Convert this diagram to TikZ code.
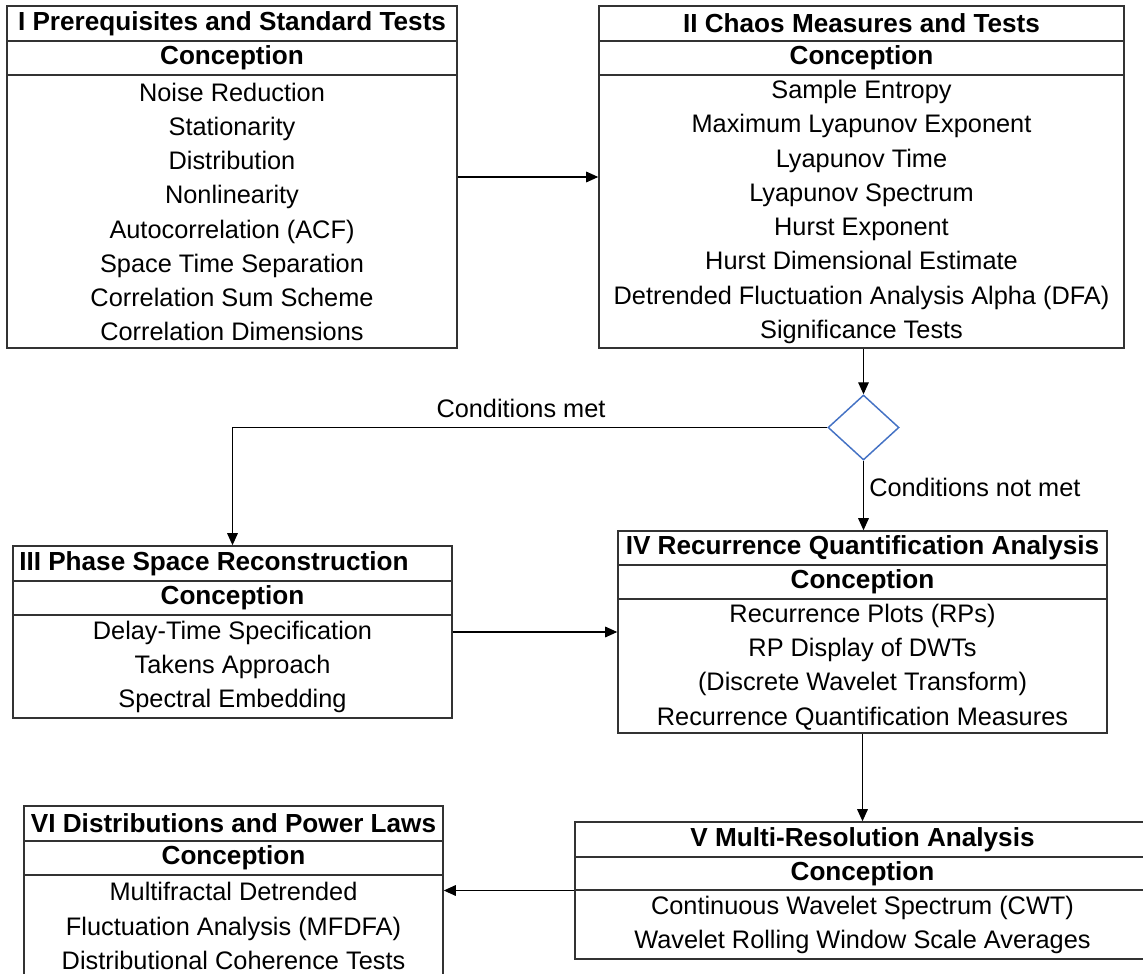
\documentclass[tikz,border=0pt]{standalone}
\usepackage{fontspec}
\setmainfont{Liberation Sans}
\usetikzlibrary{shapes.geometric,arrows.meta,fit}
\definecolor{ln}{HTML}{333333}
\definecolor{dblue}{HTML}{4472C4}
\begin{document}
\begin{tikzpicture}[x=0.75pt,y=-0.75pt,
  box/.style={draw=ln, line width=1.2pt, rectangle, inner sep=0pt},
  sep/.style={draw=ln, line width=1.2pt},
  ttl/.style={font=\fontsize{19.6}{23}\selectfont\bfseries, inner sep=0pt},
  itm/.style={font=\fontsize{19}{25.7}\selectfont, align=center, inner sep=0pt},
  arr/.style={draw=black, line width=0.8pt, -{Triangle[length=9pt,width=8pt]}},
  lbl/.style={font=\fontsize{19}{23}\selectfont, inner sep=0pt}]
\useasboundingbox (0,0) rectangle (1143,974);

% Box I
\node[box, fit={(7,6) (457,348)}] (b1) {};
\draw[sep] (7,41) -- (457,41);
\draw[sep] (7,75) -- (457,75);
\node[ttl] (b1t) at (232,23.5) {I Prerequisites and Standard Tests};
\node[ttl] (b1c) at (232,58) {Conception};
\node[itm] (b1i) at (232,212) {Noise Reduction\\Stationarity\\Distribution\\Nonlinearity\\Autocorrelation (ACF)\\Space Time Separation\\Correlation Sum Scheme\\Correlation Dimensions};

% Box II
\node[box, fit={(599,6) (1124,348)}] (b2) {};
\draw[sep] (599,41) -- (1124,41);
\draw[sep] (599,75) -- (1124,75);
\node[ttl] (b2t) at (861.5,23.5) {II Chaos Measures and Tests};
\node[ttl] (b2c) at (861.5,58) {Conception};
\node[itm] (b2i) at (861.5,212) {Sample Entropy\\Maximum Lyapunov Exponent\\Lyapunov Time\\Lyapunov Spectrum\\Hurst Exponent\\Hurst Dimensional Estimate\\Detrended Fluctuation Analysis Alpha (DFA)\\Significance Tests};

% Decision
\node[diamond, draw=dblue, line width=1.1pt, inner sep=0pt, minimum width=53.25pt, minimum height=48.75pt] (dia) at (863.5,427.5) {};

% Box III
\node[box, fit={(13,546) (452,718)}] (b3) {};
\draw[sep] (13,581) -- (452,581);
\draw[sep] (13,615) -- (452,615);
\node[ttl, anchor=west] (b3t) at (19,563.5) {III Phase Space Reconstruction};
\node[ttl] (b3c) at (232.5,598) {Conception};
\node[itm] (b3i) at (232.5,667) {Delay-Time Specification\\Takens Approach\\Spectral Embedding};

% Box IV
\node[box, fit={(618,531) (1107,733)}] (b4) {};
\draw[sep] (618,565) -- (1107,565);
\draw[sep] (618,599) -- (1107,599);
\node[ttl] (b4t) at (862.5,548) {IV Recurrence Quantification Analysis};
\node[ttl] (b4c) at (862.5,582) {Conception};
\node[itm] (b4i) at (862.5,667) {Recurrence Plots (RPs)\\RP Display of DWTs\\(Discrete Wavelet Transform)\\Recurrence Quantification Measures};

% Box V
\node[box, fit={(575,822) (1150,959)}] (b5) {};
\draw[sep] (575,857) -- (1150,857);
\draw[sep] (575,890) -- (1150,890);
\node[ttl] (b5t) at (862.5,839.5) {V Multi-Resolution Analysis};
\node[ttl] (b5c) at (862.5,873.5) {Conception};
\node[itm] (b5i) at (862.5,925) {Continuous Wavelet Spectrum (CWT)\\Wavelet Rolling Window Scale Averages};

% Box VI
\node[box, fit={(24,806) (443,976)}] (b6) {};
\draw[sep] (24,841) -- (443,841);
\draw[sep] (24,875) -- (443,875);
\node[ttl] (b6t) at (233.5,823.5) {VI Distributions and Power Laws};
\node[ttl] (b6c) at (233.5,858) {Conception};
\node[itm] (b6i) at (233.5,926) {Multifractal Detrended\\Fluctuation Analysis (MFDFA)\\Distributional Coherence Tests};

% Connectors
\draw[arr] (b1.east) -- (b2.west);
\draw[arr] (dia.north |- b2.south) -- (dia.north);
\draw[arr] (dia.west) -| (b3.north);
\node[lbl] (lmet) at (521,408) {Conditions met};
\draw[arr] (dia.south) -- (dia.south |- b4.north);
\node[lbl, anchor=west] (lnot) at (869,487) {Conditions not met};
\draw[arr] (b3.east) -- (b3.east -| b4.west);
\draw[arr] (b4.south) -- (b4.south |- b5.north);
\draw[arr] (b5.west) -- (b5.west -| b6.east);
\end{tikzpicture}
\end{document}
